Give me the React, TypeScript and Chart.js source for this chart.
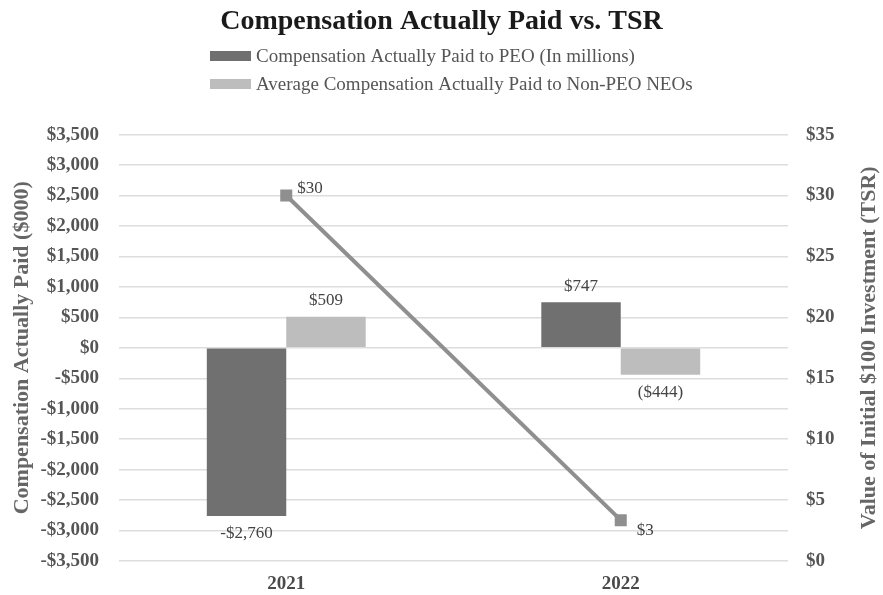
import React, { useEffect, useRef } from "react";
import { Chart, registerables } from "chart.js";

Chart.register(...registerables);

// ---- data ----
const categories = ["2021", "2022"];
const peoValues = [-2760, 747];
const neoValues = [509, -444];
const tsrValues = [30, 3.35];
const peoLabels = ["-$2,760", "$747"];
const neoLabels = ["$509", "($444)"];
const tsrLabels = ["$30", "$3"];
const seriesNames = [
  "Compensation Actually Paid to PEO (In millions)",
  "Average Compensation Actually Paid to Non-PEO NEOs",
  "TSR",
];
const leftAxis = { min: -3500, max: 3500, step: 500 };
const rightAxis = { min: 0, max: 35, step: 5 };
const titleText = "Compensation Actually Paid vs. TSR";
const leftTitle = "Compensation Actually Paid ($000)";
const rightTitle = "Value of Initial $100 Investment (TSR)";

const SERIF = '"Liberation Serif", "Times New Roman", serif';

const fmtLeft = (v: number) => {
  const a = Math.abs(v).toLocaleString("en-US");
  return v < 0 ? `-$${a}` : `$${a}`;
};

const extrasPlugin = {
  id: "extras",
  afterDraw(chart: any) {
    const ctx = chart.ctx;
    const area = chart.chartArea;
    ctx.save();
    // legend (bar datasets)
    ctx.font = `19px ${SERIF}`;
    ctx.textAlign = "left";
    ctx.textBaseline = "middle";
    const rows = [56, 84];
    chart.data.datasets.forEach((ds: any, i: number) => {
      if (ds.type === "line") return;
      const y = rows[i];
      ctx.fillStyle = ds.backgroundColor;
      ctx.fillRect(210, y - 5, 41, 10);
      ctx.fillStyle = "#555";
      ctx.fillText(ds.label, 256, y + 1);
    });
    // right axis title, reading upward
    ctx.font = `bold 22px ${SERIF}`;
    ctx.fillStyle = "#666";
    ctx.textAlign = "center";
    ctx.translate(869, (area.top + area.bottom) / 2);
    ctx.rotate(-Math.PI / 2);
    ctx.fillText(rightTitle, 0, 0);
    ctx.restore();
  },
  afterDatasetsDraw(chart: any) {
    const ctx = chart.ctx;
    ctx.save();
    ctx.font = `17px ${SERIF}`;
    ctx.fillStyle = "#444";
    ctx.textBaseline = "middle";
    chart.data.datasets.forEach((ds: any, i: number) => {
      const meta = chart.getDatasetMeta(i);
      const labels: string[] = ds.valueLabels;
      meta.data.forEach((el: any, j: number) => {
        const v = ds.data[j];
        if (ds.type === "line") {
          ctx.textAlign = "left";
          const next = ds.data[j + 1];
          const above = next !== undefined ? next < v : false;
          ctx.fillText(labels[j], el.x + (above ? 11 : 16), el.y + (above ? -7 : 10));
        } else {
          ctx.textAlign = "center";
          if (v >= 0) ctx.fillText(labels[j], el.x, el.y - 16);
          else ctx.fillText(labels[j], el.x, el.y + 18);
        }
      });
    });
    ctx.restore();
  },
};

export default function App() {
  const ref = useRef<HTMLCanvasElement>(null);
  useEffect(() => {
    if (!ref.current) return;
    const chart = new Chart(ref.current, {
      data: {
        labels: categories,
        datasets: [
          {
            type: "bar",
            label: seriesNames[0],
            data: peoValues,
            valueLabels: peoLabels,
            backgroundColor: "#707070",
            yAxisID: "y",
            order: 2,
            barPercentage: 1,
            categoryPercentage: 0.475,
          } as any,
          {
            type: "bar",
            label: seriesNames[1],
            data: neoValues,
            valueLabels: neoLabels,
            backgroundColor: "#bdbdbd",
            yAxisID: "y",
            order: 2,
            barPercentage: 1,
            categoryPercentage: 0.475,
          } as any,
          {
            type: "line",
            label: seriesNames[2],
            data: tsrValues,
            valueLabels: tsrLabels,
            borderColor: "#8f8f8f",
            backgroundColor: "#8f8f8f",
            borderWidth: 4,
            pointStyle: "rect",
            pointRadius: 8.5,
            pointBorderWidth: 0,
            yAxisID: "y1",
            order: 0,
          } as any,
        ],
      },
      options: {
        responsive: false,
        animation: false,
        layout: { padding: 0 },
        plugins: {
          legend: { display: false },
          tooltip: { enabled: false },
          title: {
            display: true,
            text: titleText,
            color: "#1a1a1a",
            font: { family: SERIF, size: 28, weight: "bold" },
            padding: { top: 5, bottom: 96 },
          },
        },
        scales: {
          x: {
            grid: { display: false, drawTicks: false },
            border: { display: false },
            ticks: {
              color: "#4a4a4a",
              font: { family: SERIF, size: 19, weight: "bold" },
              padding: 12,
            },
            afterFit: (s: any) => {
              s.height = 34;
            },
          },
          y: {
            position: "left",
            min: leftAxis.min,
            max: leftAxis.max,
            grid: { color: "#dddddd", lineWidth: 1.5, drawTicks: false },
            border: { display: false },
            ticks: {
              stepSize: leftAxis.step,
              color: "#555",
              font: { family: SERIF, size: 19, weight: "bold" },
              padding: 20,
              callback: (v: any) => fmtLeft(Number(v)),
            },
            title: {
              display: true,
              text: leftTitle,
              color: "#666",
              font: { family: SERIF, size: 22, weight: "bold" },
              padding: { top: 9, bottom: 0 },
            },
            afterFit: (s: any) => {
              s.width = 119;
            },
          },
          y1: {
            position: "right",
            min: rightAxis.min,
            max: rightAxis.max,
            grid: { display: false, drawTicks: false },
            border: { display: false },
            ticks: {
              stepSize: rightAxis.step,
              color: "#555",
              font: { family: SERIF, size: 19, weight: "bold" },
              padding: 18,
              callback: (v: any) => `$${v}`,
            },
            afterFit: (s: any) => {
              s.width = 95;
            },
          },
        },
      } as any,
      plugins: [extrasPlugin],
    });
    return () => chart.destroy();
  }, []);
  return (
    <div style={{ position: "absolute", left: 0, top: 0, width: 883, height: 595, background: "#fff" }}>
      <canvas ref={ref} width={883} height={595} style={{ display: "block" }} />
    </div>
  );
}
